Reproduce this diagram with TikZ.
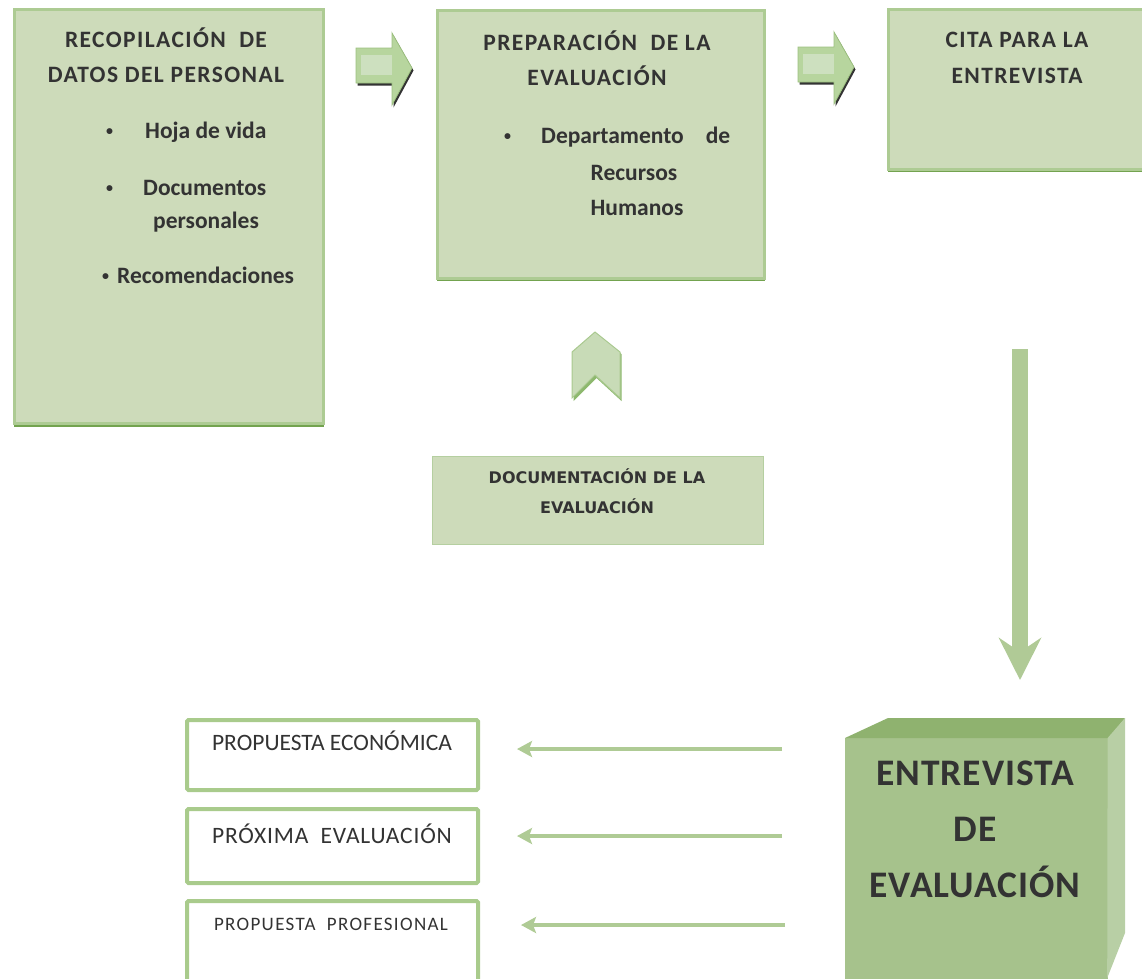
\documentclass[tikz,border=0pt]{standalone}
\usepackage{fontspec}
\setmainfont{Carlito}
\newfontfamily\dvsans{DejaVu Sans}
\newfontfamily\carlsp[LetterSpace=7]{Carlito}
\newfontfamily\carlmid[LetterSpace=3.5]{Carlito}
\newfontfamily\carlttl[LetterSpace=6]{Carlito}
\newfontfamily\carlcube[LetterSpace=2.7]{Carlito}
\newcommand\smbul{\raisebox{3pt}{\fontsize{14}{14}\selectfont •}}
\usetikzlibrary{arrows.meta}
\definecolor{boxfill}{HTML}{CDDBBA}
\definecolor{boxedge}{HTML}{ADCB93}
\definecolor{boxshadow}{HTML}{73A34F}
\definecolor{txtc}{HTML}{333333}
\definecolor{blockfill}{HTML}{B7D59E}
\definecolor{blocklight}{HTML}{CDE0BF}
\definecolor{blockedge}{HTML}{9CC07F}
\definecolor{chevfill}{HTML}{C8DBB7}
\definecolor{chevedge}{HTML}{A9C98F}
\definecolor{chevshadow}{HTML}{8DB86E}
\definecolor{downgreen}{HTML}{B0CA96}
\definecolor{leftgreen}{HTML}{AFCB95}
\definecolor{lowedge}{HTML}{A9CB8C}
\definecolor{cubefront}{HTML}{A6C28C}
\definecolor{cubetop}{HTML}{8FB26F}
\definecolor{cubeside}{HTML}{B8CFA5}
\definecolor{docedge}{HTML}{B5CFA0}
\begin{document}
\begin{tikzpicture}[x=1pt,y=-1pt,
  mainbox/.style={anchor=north west, fill=boxfill, draw=boxedge, line width=2.5pt, inner sep=0pt},
  lowbox/.style={anchor=north west, fill=white, draw=lowedge, line width=4pt, rounded corners=1.5pt, inner sep=0pt},
  titletxt/.style={inner sep=0pt, text=txtc, font=\carlttl\fontsize{23.5}{28}\selectfont\bfseries},
  listtxt/.style={inner sep=0pt, text=txtc, font=\fontsize{23.5}{28}\selectfont\bfseries},
  doctxt/.style={inner sep=0pt, text=txtc, font=\dvsans\fontsize{16}{20}\selectfont\bfseries},
  lowtxt/.style={inner sep=0pt, text=txtc, font=\fontsize{23.5}{28}\selectfont},
  cubetxt/.style={inner sep=0pt, text=txtc, font=\carlcube\fontsize{37.5}{42}\selectfont\bfseries},
  leftarr/.style={leftgreen, line width=4pt, -{Stealth[length=15pt,width=16pt,inset=3pt]}},
  downarr/.style={downgreen, line width=16pt, -{Stealth[length=42pt,width=42pt,inset=14pt]}},
  blockarr/.pic={
    \fill[black!80] (1.5,2.5) -- (37.5,2.5) -- (37.5,-12.5) -- (57.5,22.5) -- (37.5,59.5) -- (37.5,37.5) -- (1.5,37.5) -- cycle;
    \fill[blockfill, draw=blockedge, line width=0.8pt] (0,0) -- (36,0) -- (36,-15) -- (56,20) -- (36,57) -- (36,35) -- (0,35) -- cycle;
    \fill[blocklight] (5,7) rectangle (36,27);
  }]
\useasboundingbox (0,0) rectangle (1142,978);
\clip (0,0) rectangle (1142,978);

% ---------- top boxes ----------
\fill[boxshadow] (14,10) rectangle (324,427);
\node[mainbox, minimum width=309pt, minimum height=414pt] (recop) at (13,8) {};
\fill[boxshadow] (437,11) rectangle (765,281);
\node[mainbox, minimum width=327pt, minimum height=268pt] (prep) at (436,9) {};
\fill[boxshadow] (888,10) rectangle (1150,172);
\node[mainbox, minimum width=270pt, minimum height=160pt] (cita) at (887,8) {};

% texts box 1
\node[titletxt, anchor=base] (r1) at (166,47) {RECOPILACIÓN\ \ DE};
\node[titletxt, anchor=base] (r2) at (166,82) {DATOS DEL PERSONAL};
\node[listtxt, anchor=base west] (r3) at (106,138) {\makebox[39pt][l]{\smbul}Hoja de vida};
\node[listtxt, anchor=base west] (r4) at (106,195) {\makebox[37pt][l]{\smbul}Documentos};
\node[listtxt, anchor=base west] (r5) at (153,228) {personales};
\node[listtxt, anchor=base west] (r6) at (102,283) {\makebox[15pt][l]{\smbul}Recomendaciones};

% texts box 2
\node[titletxt, anchor=base] (p1) at (597,50) {PREPARACIÓN\ \ DE LA};
\node[titletxt, anchor=base] (p2) at (597,85) {EVALUACIÓN};
\node[listtxt, anchor=base west] (p3) at (504,143) {\makebox[37pt][l]{\smbul}Departamento\hspace{22pt}de};
\node[listtxt, anchor=base] (p4) at (634,180) {Recursos};
\node[listtxt, anchor=base] (p5) at (637,215) {Humanos};

% texts box 3
\node[titletxt, anchor=base] (c1) at (1017,47) {CITA PARA LA};
\node[titletxt, anchor=base] (c2) at (1017,83) {ENTREVISTA};

% block arrows
\pic at (356,48) {blockarr};
\pic at (798,47) {blockarr};

% chevron
\fill[chevshadow] (596.5,334) -- (621.5,354) -- (621.5,401) -- (596.5,378) -- (573.5,401) -- (573.5,354) -- cycle;
\fill[chevfill, draw=chevedge, line width=1pt] (595,332) -- (620,352) -- (620,398) -- (595,375) -- (572,398) -- (572,352) -- cycle;

% documentation box
\node[anchor=north west, fill=boxfill, draw=docedge, line width=1.2pt, inner sep=0pt, minimum width=331pt, minimum height=88pt] (docu) at (432,456) {};
\node[doctxt, anchor=base] (d1) at (597,483) {DOCUMENTACIÓN DE LA};
\node[doctxt, anchor=base] (d2) at (597,513) {EVALUACIÓN};

% down arrow
\coordinate (dtop) at (1020,349);
\coordinate (dtip) at (1020,680);
\draw[downarr] (dtop) -- (dtip);

% cube
\node[anchor=north west, fill=cubefront, inner sep=0pt, minimum width=263pt, minimum height=260pt] (cube) at (845,738) {};
\fill[cubetop] (cube.north west) -- (888,718) -- (1125,718) -- ([xshift=0.5pt]cube.north east) -- cycle;
\fill[cubeside] ([xshift=-0.8pt]cube.north east) -- (1125,718) -- (1125,933) -- (1107.2,978) -- cycle;
\node[cubetxt, anchor=base] (e1) at (975,785) {ENTREVISTA};
\node[cubetxt, anchor=base] (e2) at (975,841) {DE};
\node[cubetxt, anchor=base] (e3) at (975,897) {EVALUACIÓN};

% lower boxes
\node[lowbox, minimum width=291pt, minimum height=70pt] (pe) at (185,718) {};
\node[lowbox, minimum width=291pt, minimum height=74pt] (px) at (185,807) {};
\node[lowbox, minimum width=291pt, minimum height=100pt] (pp) at (185,899) {};
\node[lowtxt, anchor=base] (pet) at (332,750) {PROPUESTA ECONÓMICA};
\node[lowtxt, anchor=base] (pxt) at (332,843) {\carlmid PRÓXIMA\ \ EVALUACIÓN};
\node[inner sep=0pt, text=txtc, font=\carlsp\fontsize{19}{22}\selectfont, anchor=base] (ppt) at (331,930) {PROPUESTA\ \ PROFESIONAL};

% left arrows
\coordinate (a1s) at (782,749); \coordinate (a1e) at (517,749);
\coordinate (a2s) at (782,836); \coordinate (a2e) at (517,836);
\coordinate (a3s) at (785,925); \coordinate (a3e) at (521,925);
\draw[leftarr] (a1s) -- (a1e);
\draw[leftarr] (a2s) -- (a2e);
\draw[leftarr] (a3s) -- (a3e);
\end{tikzpicture}
\end{document}
